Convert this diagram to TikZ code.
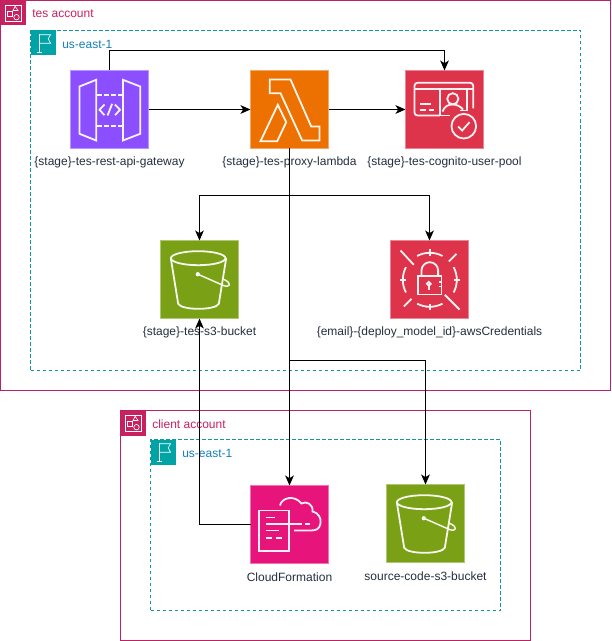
\documentclass[tikz,border=0pt]{standalone}
\usepackage{fontspec}
\setmainfont{Liberation Sans}
\usetikzlibrary{arrows.meta}
\definecolor{acct}{HTML}{C7215F}
\definecolor{acctline}{HTML}{BC2263}
\definecolor{regionline}{HTML}{00A4A6}
\definecolor{regionstroke}{HTML}{12969A}
\definecolor{regiontext}{HTML}{147EBA}
\definecolor{labeltext}{HTML}{232F3E}
\definecolor{apic}{HTML}{8C4FFF}
\definecolor{lamc}{HTML}{ED7100}
\definecolor{secc}{HTML}{DD344C}
\definecolor{sthc}{HTML}{7AA116}
\definecolor{cfc}{HTML}{E7157B}
\tikzset{
  tile/.style={draw=#1!60!white,fill=#1,line width=.6pt,minimum size=58.5pt,inner sep=0pt,outer sep=0pt,anchor=north west},
  glyph/.style={color=white!93!#1,line width=1.35pt,line join=miter},
  acctframe/.style={draw=acctline,line width=.8pt,anchor=north west,inner sep=0pt,outer sep=0pt},
  regionframe/.style={draw=regionstroke,line width=.75pt,dash pattern=on 2.6pt off 1.9pt,anchor=north west,inner sep=0pt,outer sep=0pt},
  tagbox/.style={anchor=north west,minimum size=18.75pt,inner sep=0pt,outer sep=0pt},
  acctlabel/.style={text=acct,font=\fontsize{9pt}{10pt}\selectfont,anchor=west,inner sep=0pt},
  regionlabel/.style={text=regiontext,font=\fontsize{9pt}{10pt}\selectfont,anchor=west,inner sep=0pt},
  captiontext/.style={text=labeltext,font=\fontsize{9pt}{10pt}\selectfont,inner sep=0pt},
  link/.style={draw=black,line width=.85pt,-{Stealth[length=7.5pt,width=6.5pt,inset=2pt]}},
}
\newcommand{\accttag}[1]{%
  \begin{scope}[shift={(#1.north west)},color=white,line width=.5pt]
    \draw (5,5) rectangle (21,21);
    \draw (7,11) rectangle (12,16);
    \draw (14.7,5.8) -- (17.5,10) -- (12.5,10) -- cycle;
    \draw (16,16.7) circle (2.7);
  \end{scope}}
\newcommand{\regiontag}[1]{%
  \begin{scope}[shift={(#1.north west)},color=white,line width=.5pt]
    \draw (8.7,3.3) -- (8.7,21.7) (6,21.7) -- (11.7,21.7);
    \draw (8.7,4.3) -- (20,4.3) -- (17.7,8.3) -- (20,12.7) -- (8.7,12.7);
  \end{scope}}
\newcommand{\apiicon}[1]{%
  \begin{scope}[shift={(#1.north west)},glyph=apic]
    \draw (9,16) -- (25.7,9.3) -- (25.7,70) -- (9,63.3) -- cycle;
    \draw (69.7,16) -- (52.4,9.3) -- (52.4,70) -- (69.7,63.3) -- cycle;
    \draw[dash pattern=on 3.6pt off 1.6pt] (26.5,24.3) -- (52,24.3) (26.5,55.7) -- (52,55.7);
    \draw (34,34) -- (29,39.3) -- (34,44.7);
    \draw (44.5,34) -- (49.5,39.3) -- (44.5,44.7);
    \draw (37,45) -- (41.7,33.3);
  \end{scope}}
\newcommand{\lamicon}[1]{%
  \begin{scope}[shift={(#1.north west)},glyph=lamc]
    \draw (19.3,9) -- (40,9) -- (60.7,56) -- (69,56) -- (69,70) -- (51.7,70) -- (30,22.7) -- (19.3,22.7) -- cycle;
    \draw (27.3,34.3) -- (35.7,51.7) -- (26.7,70.7) -- (10,70.7) -- cycle;
  \end{scope}}
\newcommand{\cogicon}[1]{%
  \begin{scope}[shift={(#1.north west)},glyph=secc]
    \draw[rounded corners=2.2pt] (34.3,45) -- (9,45) -- (9,12.3) -- (67.7,12.3) -- (67.7,38);
    \draw (9,18.5) -- (34,18.5) (61.5,18.5) -- (67.7,18.5);
    \draw (54,40) -- (61.5,40) -- (61.5,18.5) -- (34.3,18.5) -- (34.3,45) -- (44,45);
    \draw (47.3,28.3) circle (5.6);
    \draw (37,41) .. controls (39,35.5) and (43,34) .. (47.3,34) .. controls (51.5,34) and (55,36) .. (57.5,39);
    \draw (14,33.3) -- (25,33.3) (14,39.3) -- (20,39.3) (23.3,39.3) -- (28.3,39.3);
    \draw (58.3,55.7) circle (12.3);
    \draw (52.7,56) -- (56.7,60) -- (64,51.7);
  \end{scope}}
\newcommand{\sthicon}[1]{%
  \begin{scope}[shift={(#1.north west)},glyph=sthc]
    \draw (37.7,17.7) ellipse (27.3 and 7);
    \draw (10.3,17.7) -- (17.7,63.3) .. controls (21,70) and (55,70) .. (58.3,63.3) -- (65.7,17.7);
    \fill[white] (37.3,33.7) circle (2.1);
    \draw[line width=1.1pt] (37.3,33.7) -- (63,45) .. controls (70,47.5) and (71,42.5) .. (64.5,39.5) -- (62,38.5);
  \end{scope}}
\newcommand{\secicon}[1]{%
  \begin{scope}[shift={(#1.north west)},glyph=secc]
    \draw (39.3,9) -- (39.3,15.7) (39.3,63) -- (39.3,69.7) (9,39.3) -- (15.7,39.3) (63,39.3) -- (69.7,39.3);
    \draw (10,10) -- (23.3,24.3) (69,69) -- (54.3,54.3) (66,13.3) -- (58.3,21) (13.3,66) -- (21,58.3);
    \draw (39.3,39.3) ++(62:27) arc[start angle=62,end angle=118,radius=27];
    \draw (39.3,39.3) ++(152:27) arc[start angle=152,end angle=208,radius=27];
    \draw (39.3,39.3) ++(242:27) arc[start angle=242,end angle=298,radius=27];
    \draw (39.3,39.3) ++(332:27) arc[start angle=332,end angle=388,radius=27];
    \draw (27.7,35.7) rectangle (51,54);
    \draw (31,35.7) -- (31,30) arc[start angle=180,end angle=360,radius=8.3] -- (47.6,35.7);
    \draw (38.3,43.3) circle (1.9);
    \draw (38.3,45.3) -- (38.3,49.5);
    \draw (48,41.5) -- (51,41.5) (48,46) -- (51,46);
  \end{scope}}
\newcommand{\cficon}[1]{%
  \begin{scope}[shift={(#1.north west)},glyph=cfc]
    \draw (8.3,25) rectangle (38.3,65.7);
    \draw (15,32) -- (24.3,32) (15,38.3) -- (51,38.3) (54.3,38.3) -- (59.3,38.3);
    \draw (15,45) -- (28.3,45) (15,52.3) -- (21.7,52.3) (25,52.3) -- (31.7,52.3);
    \draw (29.5,20) .. controls (31,12) and (44,9) .. (51,18) .. controls (56,15) and (63,19) .. (62,26) .. controls (68,27) and (71,33) .. (70,38) .. controls (69,44) and (65,45) .. (60,45) -- (43.5,45);
  \end{scope}}
\begin{document}
\begin{tikzpicture}[x=.75pt,y=-.75pt]
  \useasboundingbox (0,0) rectangle (611,641);
  % frames
  \node[acctframe,minimum width=457.5pt,minimum height=292.5pt] (tesacct) at (.5,.5) {};
  \node[regionframe,minimum width=412.5pt,minimum height=255pt] (tesregion) at (30.5,30.5) {};
  \node[acctframe,minimum width=307.5pt,minimum height=172.5pt] (cliacct) at (120.5,410.5) {};
  \node[regionframe,minimum width=262.5pt,minimum height=128.25pt] (cliregion) at (150.5,439.5) {};
  % tags
  \node[tagbox,fill=acct] (testag) at (.5,.5) {};
  \accttag{testag}
  \node[tagbox,fill=regionline] (tesrtag) at (30.5,30.5) {};
  \regiontag{tesrtag}
  \node[tagbox,fill=acct] (clitag) at (120.5,410.5) {};
  \accttag{clitag}
  \node[tagbox,fill=regionline] (clirtag) at (150.5,439.5) {};
  \regiontag{clirtag}
  \node[acctlabel] (teslabel) at (32,14) {tes account};
  \node[regionlabel] (tesrlabel) at (62,44) {us-east-1};
  \node[acctlabel] (clilabel) at (152,424) {client account};
  \node[regionlabel] (clirlabel) at (182,453) {us-east-1};
  % tiles
  \node[tile=apic] (api) at (70.5,70.5) {};
  \apiicon{api}
  \node[tile=lamc] (lam) at (250.5,70.5) {};
  \lamicon{lam}
  \node[tile=secc] (cog) at (405.5,70.5) {};
  \cogicon{cog}
  \node[tile=sthc] (sth) at (160.5,240.5) {};
  \sthicon{sth}
  \node[tile=secc] (sec) at (390.5,240.5) {};
  \secicon{sec}
  \node[tile=cfc] (cf) at (250.5,485.5) {};
  \cficon{cf}
  \node[tile=sthc] (src) at (386.5,484.5) {};
  \sthicon{src}
  % captions
  \node[captiontext] (apilabel) at (109.5,162) {\{stage\}-tes-rest-api-gateway};
  \node[captiontext] (lamlabel) at (289.5,162) {\{stage\}-tes-proxy-lambda};
  \node[captiontext] (coglabel) at (444.5,162) {\{stage\}-tes-cognito-user-pool};
  \node[captiontext] (sthlabel) at (199.5,332) {\{stage\}-tes-s3-bucket};
  \node[captiontext] (seclabel) at (429.5,332) {\{email\}-\{deploy\_model\_id\}-awsCredentials};
  \node[captiontext] (cflabel) at (289.5,577) {CloudFormation};
  \node[captiontext] (srclabel) at (425.5,576) {source-code-s3-bucket};
  % connectors
  \coordinate (topbus) at (109.5,50.5);
  \coordinate (midbus) at (289.5,195.5);
  \coordinate (lowbus) at (289.5,360.5);
  \coordinate (cfbend) at (199.5,524.5);
  \draw[link] (api.north) -- (topbus) -| (cog.north);
  \draw[link] (api.east) -- (lam.west);
  \draw[link] (lam.east) -- (cog.west);
  \draw[link] (lam.south) -- (midbus) -| (sth.north);
  \draw[link] (midbus) -| (sec.north);
  \draw[link] (midbus) -- (cf.north);
  \draw[link] (lowbus) -| (src.north);
  \draw[link] (cf.west) -- (cfbend) -- (sth.south);
\end{tikzpicture}
\end{document}
